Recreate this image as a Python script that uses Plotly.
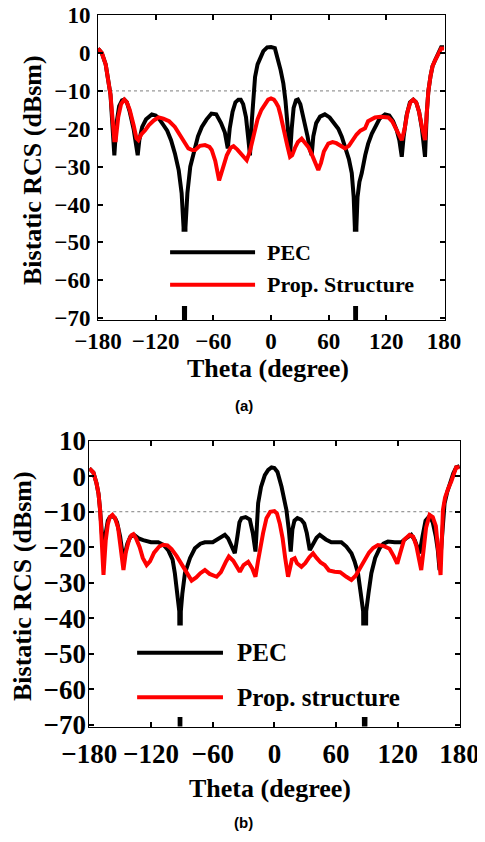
import plotly.graph_objects as go

W, H = 485, 842
PAGE_OFFSET = 8  # default body margin of the html page

# ---------------- data (a) ----------------
a_pec_theta = [-180, -176, -172, -169, -167, -165, -163, -161, -158, -155, -152.6, -150, -147, -143, -140,
               -138.7, -137, -134, -130, -124, -120, -116, -112, -108, -104, -100, -96, -93, -91, -90, -89,
               -87, -84, -80, -76, -72, -67, -62, -57, -52, -48, -45, -43, -40, -37, -34, -31.5, -29, -26,
               -23.5, -21.9, -20, -18, -16.6, -14, -11, -8, -4, 0, 4, 7.6, 10, 12.8, 15, 17.5, 19.8, 21.5,
               23.5, 26, 28, 30.5, 33, 35.4, 38, 40.5, 42.3, 44, 47, 51, 56, 61, 66, 70, 73.6, 77, 81, 84,
               86, 87.2, 88, 88.8, 90, 92, 94.4, 98, 101, 104.8, 109, 113, 118.6, 123, 127, 130.8, 133.5,
               136, 138, 141, 144.5, 148, 151, 154, 157, 160.2, 162, 163.7, 166, 168, 170.7, 174, 177, 180]
a_pec_rcs = [1.2, 0, -3, -7, -11, -19, -27, -19, -14, -12.5, -12.3, -13, -15.5, -20, -25,
             -27, -23, -19.5, -17.5, -16.2, -16.5, -17.5, -19, -20.5, -23, -26.5, -31, -37, -46, -100, -46,
             -37, -30, -26, -22, -19.5, -17.5, -16, -16.2, -18.5, -21, -25.2, -20, -15.5, -13, -12.3, -12.3, -13.5, -17,
             -23, -27, -18, -10, -6.3, -3, -1, 0.5, 1.5, 1.6, 1.3, -1.9, -4.5, -8, -12.5, -20, -27, -20,
             -14.5, -12.5, -12.3, -13.5, -16, -18.7, -22, -25.5, -27, -22, -18.5, -16.8, -16.2, -17, -18.5, -20, -22.1, -24.5, -28, -31.7,
             -38, -46, -100, -46, -38, -34, -31.7, -27, -24, -21.3, -19, -17.3, -16.2, -16.5, -18, -20.4, -23,
             -27.4, -22, -16.5, -13, -12.3, -13, -15.5, -20, -27.4, -16, -10, -6, -3.5, -1.9, 0, 1.5, 1.5]

a_prop_theta = [-180, -176, -172, -169, -167, -165, -163, -161.6, -159, -156, -152.6, -150, -147, -143, -140,
                -138, -135, -131, -127, -122, -117, -112, -106, -100, -95, -90, -86, -82, -79, -74, -68.7,
                -64, -61.7, -58, -56, -54, -52, -49, -46, -42, -39, -35, -30, -25.3, -22, -19.5, -17.4, -14,
                -10, -6.2, -3, 0, 3, 5, 7.6, 10, 12, 14.6, 17, 19.8, 22, 25, 28, 31.9, 35, 38.8, 42, 45, 49.2,
                52, 55, 59.6, 64, 68, 72, 77, 81, 85, 89, 93, 97.8, 101, 104, 108.2, 114, 122, 126, 130, 133,
                136, 139, 142, 145, 148, 151, 154, 157, 160.2, 162, 163.7, 166, 168, 170.7, 174, 177, 180]
a_prop_rcs = [1.2, 0, -3, -7, -11, -17, -23, -23, -17, -13.5, -12.3, -13, -15, -19, -22.5,
              -23, -21.5, -20.4, -19, -17.8, -17, -17.3, -18, -19.5, -21.5, -23.5, -25.2, -25.6, -25.6, -24.5, -24.3,
              -24.8, -25.6, -28.5, -31, -33.6, -32, -29, -27, -25, -24.6, -25.5, -27, -28.3, -26, -23, -20.8, -17.5,
              -15, -13.3, -12.3, -12, -12.3, -13, -14.2, -16.5, -19, -21.3, -24.5, -27.4, -27, -25, -23.5, -22.6, -23.5, -24.8, -26.5, -28.5, -30.9,
              -29, -26, -23.9, -23.5, -23.8, -24.5, -25.2, -24.5, -23, -21.5, -20.5, -19.9, -18, -17.5, -17, -16.8, -17, -18, -20, -22,
              -23, -20, -15.5, -13, -12.3, -13, -15.5, -19.5, -23, -16, -10, -6, -3.5, -1.9, 0, 1.2, 1.2]

# ---------------- data (b) ----------------
b_pec_theta = [-180, -176, -173, -171, -169.5, -168, -166.2, -164, -162, -160, -157.5, -155, -153, -150, -146.8,
               -143, -140, -136, -132, -127.6, -120, -113, -108, -103.3, -99, -96.8, -94, -92.5, -91.8, -91, -89.5,
               -87, -82, -77.3, -72, -67.6, -60, -54.7, -48.2, -45, -42, -38.5, -36, -34, -32, -28, -23.9, -21,
               -18.4, -16.8, -15.8, -13, -9.3, -6, -2.8, 0, 3, 6.9, 9.5, 11.7, 14, 15.9, 17.5, 19.5, 22.4, 26,
               29, 31.5, 34.4, 38, 41, 44.1, 50, 55.4, 65.1, 70, 74.9, 78, 81.3, 84, 86.3, 87.8, 89.3, 91.5,
               94.3, 98, 102.3, 106, 110.4, 117, 123.4, 128, 133.1, 136.5, 139, 141.2, 144, 147, 150.9, 154,
               157, 159, 160.6, 162.5, 164, 165.5, 168, 171, 174, 176.8, 180]
b_pec_rcs = [2.2, 1, -2, -5, -9.5, -15, -22, -16, -12.5, -11.5, -11.2, -11.8, -13, -17, -23.6,
             -19, -17, -16.6, -17.5, -18, -18.6, -18.6, -19.3, -20.8, -23.5, -27.3, -33, -38, -100, -38, -33,
             -27.3, -23, -20.3, -19, -18.6, -18.6, -17.7, -16.5, -17.5, -19.5, -21.7, -17, -13, -11.8, -11.5, -12.2, -16,
             -21.2, -14, -7.6, -3, 0.3, 1.8, 2.5, 2.3, 1.2, -2.9, -6.5, -9.5, -15, -21.2, -15, -12.5, -11.8, -12.2,
             -13.3, -16, -20.8, -19, -17.3, -16.5, -17.8, -18.6, -18.6, -19.8, -21.7, -24, -27.3, -33, -38, -100, -38, -33,
             -27.3, -23, -20.3, -19, -18.4, -18.6, -18.6, -17.5, -16.5, -18, -20, -21.7, -17, -12.5, -11.2, -13,
             -17, -21, -26.4, -18, -11, -7.6, -4.5, -1.5, 0.8, 2.5, 2.8]

b_prop_theta = [-180, -176, -173, -171, -169.5, -168, -166.2, -164, -162, -160, -157.5, -155, -152, -150, -148.5,
                -146.8, -144.5, -141.5, -139, -137.1, -134.5, -131, -128, -124.2, -121, -117, -112, -108.3, -104,
                -100, -95, -91, -87, -83, -80.5, -76, -72, -67.6, -63, -56.2, -52, -47, -44.3, -40, -36, -33.6,
                -30, -25.5, -21.5, -18.4, -16, -14.2, -11, -7.7, -4, 0, 2.5, 5.2, 8, 10.5, 13.3, 15.5, 17, 19.8,
                22, 26.3, 30, 34, 37.6, 41, 45, 48.9, 53, 58.6, 64, 70, 74.9, 79, 83, 87.8, 92, 96, 100.7, 106,
                112, 116, 119.5, 122, 126, 131.4, 135, 138, 140.5, 142.8, 145, 147.5, 150.9, 154, 157, 159, 161.6,
                163.9, 166, 169, 172, 176.8, 180]
b_prop_rcs = [2.2, 1, -2, -5, -9.5, -16, -27.8, -18, -13.5, -11.5, -10.9, -11.8, -14.5, -19, -23,
              -26.4, -21.5, -18, -16.6, -16.3, -17.5, -20, -23, -25, -24, -21.5, -19.8, -19.3, -19.5,
              -20.5, -22.5, -24.5, -26.4, -28.5, -29.4, -28.5, -27.3, -26.4, -27.5, -28.3, -27, -24, -22.6, -23.8, -26, -26.9,
              -25, -24.1, -26, -28.3, -24, -21, -16, -11.8, -10, -9.8, -10.5, -13.3, -17.5, -23, -28.3, -25.5, -23.5, -23.1,
              -24.5, -25.5, -24.5, -22.8, -21.7, -23, -24.3, -25, -26.5, -26.9, -27, -28.3, -29.2, -28, -26, -23.6, -21.5, -20.2, -19.4, -19.6,
              -20.4, -22.5, -24.6, -22, -18, -16.5, -17, -19.5, -23.5, -26.4, -21, -14.5, -10.9, -11.5, -14, -19, -27.8,
              -9.5, -6, -3.5, -1.5, 2.5, 2.5]

x_ticks = [-180, -120, -60, 0, 60, 120, 180]
y_ticks = [10, 0, -10, -20, -30, -40, -50, -60, -70]
series_names_a = ["PEC", "Prop. Structure"]
series_names_b = ["PEC", "Prop. structure"]
colors = ["#000000", "#ff0000"]

SERIF = "Liberation Serif"


def px_x(p):
    return (p - PAGE_OFFSET) / W


def px_y(p):
    return 1 - (p - PAGE_OFFSET) / H


fig = go.Figure()
fig.add_trace(go.Scatter(x=a_pec_theta, y=a_pec_rcs, mode="lines", line=dict(color=colors[0], width=4),
                         xaxis="x", yaxis="y", showlegend=False))
fig.add_trace(go.Scatter(x=a_prop_theta, y=a_prop_rcs, mode="lines", line=dict(color=colors[1], width=4),
                         xaxis="x", yaxis="y", showlegend=False))
fig.add_trace(go.Scatter(x=b_pec_theta, y=b_pec_rcs, mode="lines", line=dict(color=colors[0], width=4),
                         xaxis="x2", yaxis="y2", showlegend=False))
fig.add_trace(go.Scatter(x=b_prop_theta, y=b_prop_rcs, mode="lines", line=dict(color=colors[1], width=4),
                         xaxis="x2", yaxis="y2", showlegend=False))


def axis_common(tsize, standoff):
    return dict(showline=True, linecolor="black", linewidth=1, mirror="ticks", ticks="inside",
                ticklen=5, tickwidth=2, tickcolor="black", showgrid=False, zeroline=False,
                automargin=False, tickangle=0,
                tickfont=dict(family=SERIF, size=tsize, color="black", weight="bold"),
                ticklabelstandoff=standoff)


fig.update_layout(
    width=W, height=H, margin=dict(l=0, r=0, t=0, b=0),
    paper_bgcolor="white", plot_bgcolor="white",
    xaxis=dict(domain=[px_x(98), px_x(445)], range=[-180, 181], tickvals=x_ticks, anchor="y",
               **axis_common(23, 0)),
    yaxis=dict(domain=[px_y(320), px_y(15)], range=[-70.5, 10.05], tickvals=y_ticks, anchor="x",
               **axis_common(23, 2)),
    xaxis2=dict(domain=[px_x(89.3), px_x(460)], range=[-180, 180.5], tickvals=x_ticks, anchor="y2",
                **axis_common(27, 3)),
    yaxis2=dict(domain=[px_y(726.5), px_y(440.5)], range=[-70.45, 10.05], tickvals=y_ticks, anchor="x2",
                **axis_common(27, -3)),
)

shapes = []
# dotted -10 reference lines
for xr, yr in (("x", "y"), ("x2", "y2")):
    shapes.append(dict(type="line", xref=f"{xr} domain", yref=yr, x0=0, x1=1, y0=-10, y1=-10,
                       line=dict(color="#7f7f7f", width=1, dash="dot"), layer="below"))
# legend boxes (white, opaque)
shapes.append(dict(type="rect", xref="x", yref="y", x0=-115, x1=165, y0=-66.8, y1=-47.2,
                   fillcolor="white", line=dict(width=0), layer="above"))
shapes.append(dict(type="rect", xref="x2", yref="y2", x0=-140, x1=165, y0=-67.8, y1=-42.0,
                   fillcolor="white", line=dict(width=0), layer="above"))
# legend lines
for i, yv in enumerate([-52.6, -61.2]):
    shapes.append(dict(type="line", xref="x", yref="y", x0=-105, x1=-16.6, y0=yv, y1=yv,
                       line=dict(color=colors[i], width=4), layer="above"))
for i, yv in enumerate([-49.7, -62.2]):
    shapes.append(dict(type="line", xref="x2", yref="y2", x0=-133.5, x1=-50, y0=yv, y1=yv,
                       line=dict(color=colors[i], width=4), layer="above"))
fig.update_layout(shapes=shapes)

ann = []
for i, yv in enumerate([-52.6, -61.2]):
    ann.append(dict(text=series_names_a[i], xref="x", yref="y", x=-6.2, y=yv, xanchor="left", yanchor="middle",
                    showarrow=False, font=dict(family=SERIF, size=22, color="black", weight="bold")))
for i, yv in enumerate([-49.7, -62.2]):
    ann.append(dict(text=series_names_b[i], xref="x2", yref="y2", x=-38.4, y=yv, xanchor="left", yanchor="middle",
                    showarrow=False, font=dict(family=SERIF, size=25, color="black", weight="bold")))
# axis titles
title_font = dict(family=SERIF, size=26, color="black", weight="bold")
ann.append(dict(text="Bistatic RCS (dBsm)", xref="paper", yref="paper", x=px_x(33), y=px_y(170),
                textangle=-90, showarrow=False, xanchor="center", yanchor="middle", font=title_font))
ann.append(dict(text="Theta (degree)", xref="paper", yref="paper", x=px_x(268), y=px_y(368),
                showarrow=False, xanchor="center", yanchor="middle", font=title_font))
ann.append(dict(text="Bistatic RCS (dBsm)", xref="paper", yref="paper", x=px_x(22), y=px_y(586),
                textangle=-90, showarrow=False, xanchor="center", yanchor="middle", font=title_font))
ann.append(dict(text="Theta (degree)", xref="paper", yref="paper", x=px_x(270), y=px_y(788),
                showarrow=False, xanchor="center", yanchor="middle", font=title_font))
# captions
cap_font = dict(family="Liberation Sans", size=15, color="black", weight="bold")
ann.append(dict(text="(a)", xref="paper", yref="paper", x=px_x(244), y=px_y(405), showarrow=False,
                xanchor="center", yanchor="middle", font=cap_font))
ann.append(dict(text="(b)", xref="paper", yref="paper", x=px_x(243), y=px_y(822), showarrow=False,
                xanchor="center", yanchor="middle", font=cap_font))
fig.update_layout(annotations=ann)

fig.write_html("out.html")
